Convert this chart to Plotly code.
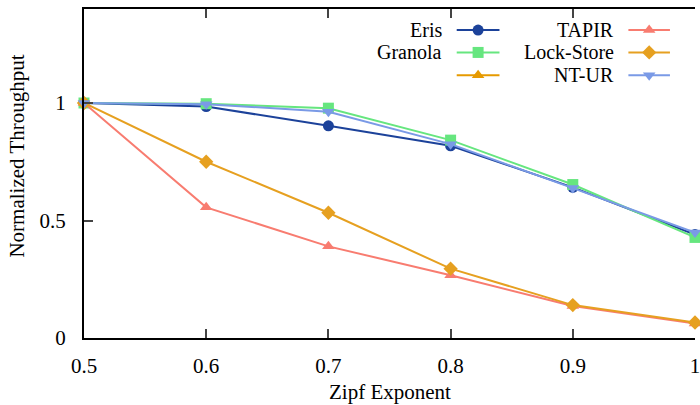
import plotly.graph_objects as go

zipf = [0.5, 0.6, 0.7, 0.8, 0.9, 1.0]
eris = [1.0, 0.985, 0.903, 0.818, 0.641, 0.44]
granola = [1.0, 0.997, 0.978, 0.842, 0.653, 0.428]
tapir = [1.0, 0.556, 0.39, 0.267, 0.136, 0.062]
lockstore = [1.0, 0.75, 0.533, 0.295, 0.14, 0.066]
ntur = [1.0, 0.995, 0.963, 0.825, 0.638, 0.449]

x_ticks = [0.5, 0.6, 0.7, 0.8, 0.9, 1.0]
x_tick_text = ["0.5", "0.6", "0.7", "0.8", "0.9", "1"]
y_ticks = [0, 0.5, 1]
y_tick_text = ["0", "0.5", "1"]

series = [
    ("Eris", eris, "#1c429a", "circle", 11),
    ("Granola", granola, "#66e67f", "square", 11),
    ("TAPIR", tapir, "#f87c70", "triangle-up", 11),
    ("Lock-Store", lockstore, "#e6a020", "diamond", 11),
    ("NT-UR", ntur, "#7a9ae6", "triangle-down", 11),
]

FONT = "'Liberation Serif', 'Times New Roman', serif"
fig = go.Figure()
for name, ys, col, sym, sz in series:
    fig.add_trace(go.Scatter(x=zipf, y=ys, mode="lines+markers", name=name,
                             line=dict(color=col, width=2),
                             marker=dict(color=col, symbol=sym, size=sz),
                             showlegend=False, cliponaxis=False))

# custom gnuplot-style legend (text right, sample on right)
legend_entries = [
    ("Eris", "#1c429a", "circle", 0, 0),
    ("Granola", "#66e67f", "square", 0, 1),
    ("", "#e69a00", "triangle-up", 0, 2),
    ("TAPIR", "#f87c70", "triangle-up", 1, 0),
    ("Lock-Store", "#e6a020", "diamond", 1, 1),
    ("NT-UR", "#7a9ae6", "triangle-down", 1, 2),
]
col_text_x = [0.588, 0.8685]
col_line_x = [(0.610, 0.680), (0.891, 0.959)]
row_y = [0.936, 0.868, 0.799]
annotations = []
for label, col, sym, c, r in legend_entries:
    x0, x1 = col_line_x[c]
    yy = row_y[r]
    fig.add_trace(go.Scatter(x=[x0, x1], y=[yy, yy], mode="lines", xaxis="x2", yaxis="y2",
                             line=dict(color=col, width=2), showlegend=False, hoverinfo="skip"))
    fig.add_trace(go.Scatter(x=[(x0 + x1) / 2], y=[yy], mode="markers", xaxis="x2", yaxis="y2",
                             marker=dict(color=col, symbol=sym, size=11), showlegend=False,
                             hoverinfo="skip"))
    if label:
        annotations.append(dict(x=col_text_x[c], y=yy, xref="paper", yref="paper",
                                text=label, showarrow=False, xanchor="right", yanchor="middle",
                                borderpad=0,
                                font=dict(family=FONT, size=20, color="black")))

annotations.append(dict(x=0.5, y=-0.164, xref="paper", yref="paper", text="Zipf Exponent",
                        showarrow=False, xanchor="center", yanchor="middle",
                        font=dict(family=FONT, size=21, color="black")))
annotations.append(dict(x=-0.1088, y=0.553, xref="paper", yref="paper",
                        text="Normalized Throughput", textangle=-90, showarrow=False,
                        xanchor="center", yanchor="middle",
                        font=dict(family=FONT, size=21, color="black")))

tick_common = dict(ticks="inside", ticklen=9, tickcolor="#444", tickwidth=1.5,
                   tickfont=dict(family=FONT, size=21, color="black"))
fig.update_layout(
    width=700, height=405,
    margin=dict(l=84, r=0, t=9, b=67),
    paper_bgcolor="white", plot_bgcolor="white",
    xaxis=dict(range=[0.5, 1.0], tickvals=x_ticks, ticktext=x_tick_text,
               ticklabelstandoff=8, ticklabeloverflow="allow", showgrid=False, zeroline=False,
               showline=True, linecolor="black", linewidth=2, mirror="ticks", **tick_common),
    yaxis=dict(range=[0, 1.4], tickvals=y_ticks, ticktext=y_tick_text,
               ticklabelstandoff=12, showgrid=False, zeroline=False,
               showline=True, linecolor="black", linewidth=2, mirror=False, **tick_common),
    yaxis3=dict(range=[0, 1.4], overlaying="y", side="right", tickvals=y_ticks,
                showticklabels=False, showgrid=False, zeroline=False, showline=False,
                fixedrange=True, **tick_common),
    xaxis2=dict(range=[0, 1], overlaying="x", visible=False, fixedrange=True),
    yaxis2=dict(range=[0, 1], overlaying="y", visible=False, fixedrange=True),
    annotations=annotations,
    showlegend=False,
)
fig.write_html("out.html")
